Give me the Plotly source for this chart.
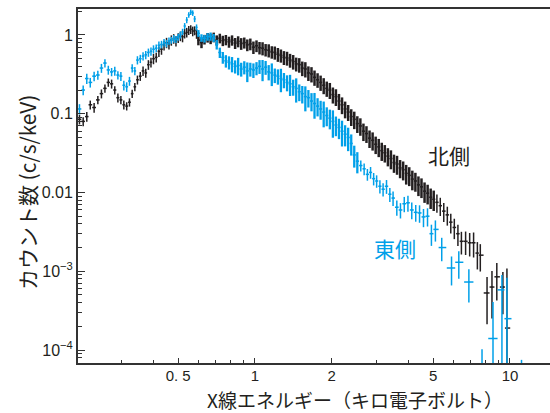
import plotly.graph_objects as go

# ---------------- data ----------------
# 北側 (north side) spectrum
north_energy = [
    0.205, 0.212, 0.219, 0.226, 0.234, 0.242, 0.250, 0.258, 0.266, 0.274,
    0.282, 0.290, 0.298, 0.306, 0.314, 0.322, 0.330, 0.338, 0.346, 0.355,
    0.364, 0.373, 0.382, 0.391, 0.400, 0.410, 0.420, 0.430, 0.440, 0.450,
    0.460, 0.470, 0.480, 0.490, 0.500, 0.510, 0.520, 0.530, 0.540, 0.550,
    0.560, 0.570, 0.580, 0.590,
    0.600, 0.617, 0.634, 0.652, 0.670, 0.689, 0.708, 0.728, 0.748, 0.769,
    0.791, 0.813, 0.836, 0.859, 0.883, 0.908, 0.933, 0.959, 0.986, 1.014,
    1.042, 1.071, 1.101, 1.132, 1.164, 1.196, 1.230, 1.264, 1.299, 1.336,
    1.373, 1.412, 1.451, 1.492, 1.533, 1.576, 1.620, 1.666, 1.712, 1.760,
    1.809, 1.860, 1.912, 1.966, 2.021, 2.077, 2.135, 2.195, 2.257, 2.320,
    2.385, 2.451, 2.520, 2.590, 2.663, 2.737, 2.814, 2.893, 2.974, 3.057,
    3.142, 3.230, 3.321, 3.413, 3.509, 3.607, 3.708, 3.812, 3.918, 4.028,
    4.141, 4.257, 4.376, 4.498, 4.624, 4.754, 4.887, 5.023,
    5.17, 5.33, 5.50, 5.68, 5.86, 6.05, 6.25, 6.45, 6.70, 6.95,
    7.20, 7.45, 7.65, 8.13, 8.50, 8.88, 9.38, 9.73,
]
north_rate = [
    0.085, 0.080, 0.092, 0.13, 0.12, 0.15, 0.18, 0.21, 0.25, 0.24,
    0.20, 0.16, 0.15, 0.13, 0.125, 0.14, 0.18, 0.22, 0.27, 0.30,
    0.35, 0.33, 0.42, 0.45, 0.50, 0.52, 0.62, 0.66, 0.74, 0.80,
    0.76, 0.86, 0.90, 0.84, 0.92, 0.97, 0.95, 1.05, 1.08, 1.15,
    1.18, 1.12, 1.14, 1.04,
    0.86, 0.80, 0.88, 0.93, 0.90, 0.94, 0.86, 0.91, 0.85, 0.87,
    0.82, 0.86, 0.79, 0.83, 0.78, 0.80, 0.75, 0.77, 0.70, 0.73,
    0.69, 0.68, 0.65, 0.64, 0.61, 0.60, 0.57, 0.55, 0.52, 0.51,
    0.48, 0.46, 0.43, 0.42, 0.38, 0.37, 0.33, 0.32, 0.29, 0.27,
    0.25, 0.23, 0.21, 0.20, 0.175, 0.165, 0.145, 0.13, 0.115, 0.105,
    0.092, 0.085, 0.075, 0.070, 0.060, 0.056, 0.049, 0.046, 0.041, 0.038,
    0.034, 0.032, 0.029, 0.027, 0.024, 0.023, 0.0205, 0.0195, 0.0175, 0.0165,
    0.0148, 0.014, 0.0125, 0.0118, 0.0104, 0.0098, 0.0087, 0.0082,
    0.0075, 0.0068, 0.0058, 0.0052, 0.0042, 0.0036, 0.0030, 0.0024, 0.0024, 0.0023,
    0.0023, 0.0017, 0.0016, 5.3e-4, 6.3e-4, 8.5e-4, 6.3e-4, 1.9e-4,
]
north_relerr = [
    0.14, 0.13, 0.14, 0.13, 0.14, 0.12, 0.13, 0.12, 0.12, 0.13,
    0.12, 0.13, 0.12, 0.13, 0.12, 0.12, 0.12, 0.12, 0.13, 0.13,
    0.14, 0.13, 0.14, 0.14, 0.15, 0.14, 0.15, 0.15, 0.14, 0.15,
    0.14, 0.15, 0.14, 0.15, 0.14, 0.14, 0.15, 0.14, 0.14, 0.13,
    0.13, 0.14, 0.13, 0.14,
    0.14, 0.15, 0.14, 0.14, 0.15, 0.14, 0.15, 0.14, 0.15, 0.15,
    0.16, 0.15, 0.16, 0.16, 0.17, 0.16, 0.17, 0.17, 0.18, 0.17,
    0.18, 0.19, 0.18, 0.19, 0.18, 0.19, 0.20, 0.19, 0.20, 0.20,
    0.20, 0.21, 0.20, 0.21, 0.21, 0.22, 0.21, 0.22, 0.22, 0.21,
    0.22, 0.23, 0.22, 0.23, 0.23, 0.24, 0.23, 0.24, 0.24, 0.23,
    0.24, 0.25, 0.24, 0.25, 0.25, 0.24, 0.25, 0.26, 0.25, 0.26,
    0.26, 0.25, 0.26, 0.27, 0.26, 0.27, 0.26, 0.27, 0.28, 0.27,
    0.28, 0.27, 0.28, 0.28, 0.29, 0.28, 0.29, 0.29,
    0.26, 0.26, 0.27, 0.27, 0.28, 0.29, 0.30, 0.32, 0.33, 0.33,
    0.35, 0.38, 0.38, 0.60, 0.60, 0.50, 0.55, 4.7,
]
north_floor = [9.73]   # bins whose lower error bar reaches the bottom of the plot

# 東側 (east side) spectrum
east_energy = [
    0.205, 0.212, 0.219, 0.226, 0.234, 0.242, 0.250, 0.258, 0.266, 0.274,
    0.282, 0.290, 0.298, 0.306, 0.314, 0.322, 0.330, 0.338, 0.346, 0.355,
    0.364, 0.373, 0.382, 0.391, 0.400, 0.410, 0.420, 0.430, 0.440, 0.450,
    0.460, 0.470, 0.480, 0.490, 0.500, 0.510, 0.520, 0.530, 0.540, 0.550,
    0.560, 0.570, 0.580, 0.590,
    0.600, 0.617, 0.634, 0.652, 0.670, 0.689, 0.708, 0.728, 0.748, 0.769,
    0.791, 0.813, 0.836, 0.859, 0.883, 0.908, 0.933, 0.959, 0.986, 1.014,
    1.042, 1.071, 1.101, 1.132, 1.164, 1.196, 1.230, 1.264, 1.299, 1.336,
    1.373, 1.412, 1.451, 1.492, 1.533, 1.576, 1.620, 1.666, 1.712, 1.760,
    1.809, 1.860, 1.912, 1.966, 2.021, 2.077, 2.135, 2.195, 2.257, 2.320,
    2.385, 2.451, 2.520,
    2.60, 2.68, 2.76, 2.84, 2.92, 3.00, 3.09, 3.18, 3.28, 3.38,
    3.48, 3.60, 3.72, 3.85, 3.98, 4.12, 4.27, 4.42, 4.58, 4.75,
    4.92, 5.10, 5.40, 5.90, 6.30, 6.90,
    7.77, 8.58, 9.30, 9.73, 11.1,
]
east_rate = [
    0.115, 0.20, 0.28, 0.25, 0.30, 0.31, 0.38, 0.44, 0.36, 0.34,
    0.35, 0.31, 0.30, 0.23, 0.22, 0.26, 0.38, 0.35, 0.48, 0.50,
    0.54, 0.56, 0.60, 0.62, 0.66, 0.68, 0.74, 0.76, 0.80, 0.78,
    0.84, 0.86, 0.90, 0.88, 0.94, 1.00, 1.10, 1.30, 1.55, 1.80,
    1.95, 1.90, 1.60, 1.25,
    1.05, 0.92, 0.90, 0.95, 0.96, 0.92, 0.76, 0.60, 0.52, 0.47,
    0.45, 0.43, 0.40, 0.41, 0.37, 0.39, 0.35, 0.37, 0.36, 0.38,
    0.40, 0.37, 0.39, 0.34, 0.33, 0.31, 0.30, 0.28, 0.27, 0.25,
    0.24, 0.22, 0.21, 0.19, 0.18, 0.165, 0.16, 0.145, 0.135, 0.125,
    0.115, 0.105, 0.095, 0.088, 0.080, 0.072, 0.067, 0.060, 0.055, 0.050,
    0.042, 0.030, 0.025,
    0.022, 0.020, 0.017, 0.018, 0.015, 0.014, 0.012, 0.011, 0.012, 0.0095,
    0.0085, 0.0065, 0.0060, 0.0072, 0.0074, 0.0060, 0.0056, 0.0055, 0.0049, 0.0050,
    0.0030, 0.0034, 0.0020, 0.0011, 0.0013, 7.3e-4,
    6e-5, 1.4e-4, 5.8e-4, 2.5e-4, 6e-5,
]
east_relerr = [
    0.15, 0.14, 0.15, 0.14, 0.14, 0.13, 0.13, 0.12, 0.13, 0.12,
    0.13, 0.12, 0.13, 0.14, 0.14, 0.13, 0.12, 0.12, 0.12, 0.12,
    0.12, 0.12, 0.12, 0.12, 0.12, 0.11, 0.12, 0.11, 0.11, 0.11,
    0.11, 0.10, 0.11, 0.10, 0.10, 0.10, 0.09, 0.09, 0.09, 0.08,
    0.08, 0.08, 0.09, 0.09,
    0.10, 0.11, 0.11, 0.11, 0.12, 0.12, 0.14, 0.15, 0.17, 0.18,
    0.19, 0.22, 0.19, 0.25, 0.20, 0.19, 0.28, 0.20, 0.21, 0.19,
    0.20, 0.30, 0.20, 0.22, 0.32, 0.21, 0.22, 0.33, 0.22, 0.23,
    0.30, 0.23, 0.34, 0.24, 0.25, 0.35, 0.25, 0.26, 0.36, 0.26,
    0.27, 0.36, 0.27, 0.28, 0.38, 0.28, 0.29, 0.36, 0.30, 0.33,
    0.30, 0.31, 0.30,
    0.16, 0.17, 0.17, 0.17, 0.18, 0.18, 0.19, 0.19, 0.20, 0.20,
    0.21, 0.22, 0.22, 0.22, 0.23, 0.24, 0.24, 0.25, 0.26, 0.26,
    0.30, 0.30, 0.33, 0.40, 0.38, 0.45,
    0.7, 1.9, 0.55, 2.3, 0.25,
]
east_floor = [7.77, 8.58, 9.30, 9.73]

x_tickvals = [0.5, 1, 2, 5, 10]
x_ticktext = ["0. 5", "1", "2", "5", "10"]
x_minor = [0.3, 0.4, 0.6, 0.7, 0.8, 0.9, 3, 4, 6, 7, 8, 9]
y_tickvals = [1, 0.1, 0.01, 0.001, 0.0001]
y_ticktext = ["1", "0.1", "0.01", "10<sup>−3</sup>", "10<sup>−4</sup>"]
y_minor = [m * d for d in (1e-5, 1e-4, 1e-3, 1e-2, 1e-1, 1) for m in range(2, 10)]

BLACK = "#231F20"
CYAN = "#00A0E9"


def bars(E, R, REL, floor, cap):
    up, dn, xl, xr = [], [], [], []
    n = len(E)
    for i in range(n):
        e, r, s = E[i], R[i], REL[i]
        up.append(r * s)
        dn.append(0.999 * r if (e in floor or s >= 1) else r * s)
        left = (e - E[i - 1]) / 2 if i > 0 else cap * e
        right = (E[i + 1] - e) / 2 if i < n - 1 else cap * e
        xl.append(min(left, cap * e))
        xr.append(min(right, cap * e))
    return up, dn, xl, xr


fig = go.Figure()
# (series, colour, horizontal cap, dense-band energy window, dense bar thickness)
series = (
    (north_energy, north_rate, north_relerr, north_floor, BLACK, 0.03, (0.595, 5.1), 2.5),
    (east_energy, east_rate, east_relerr, east_floor, CYAN, 0.042, (0.595, 2.55), 2.3),
)
for E, R, REL, FL, col, cap, (lo, hi), thick in series:
    up, dn, xl, xr = bars(E, R, REL, FL, cap)
    groups = {
        "dense": [i for i, e in enumerate(E) if lo <= e <= hi],
        "sparse": [i for i, e in enumerate(E) if not (lo <= e <= hi)],
    }
    for name, idx in groups.items():
        t = thick if name == "dense" else 1.5
        pick = lambda a: [a[i] for i in idx]
        fig.add_trace(go.Scatter(
            x=pick(E), y=pick(R), mode="markers",
            marker=dict(size=1.5, color=col),
            error_y=dict(type="data", symmetric=False, array=pick(up), arrayminus=pick(dn),
                         width=0, thickness=t, color=col),
            error_x=dict(type="data", symmetric=False, array=pick(xr), arrayminus=pick(xl),
                         width=0, thickness=1.5, color=col),
            showlegend=False, hoverinfo="skip",
        ))

tickfont = dict(family="Liberation Sans, Arial, sans-serif", size=15, color=BLACK)
jp = "Noto Sans CJK JP, sans-serif"

fig.update_layout(
    width=550, height=413,
    margin=dict(l=78, r=0, t=9, b=50),
    paper_bgcolor="white", plot_bgcolor="white",
    xaxis=dict(
        type="log", range=[-0.694, 1.157],
        tickvals=x_tickvals, ticktext=x_ticktext,
        ticks="inside", ticklen=5, tickwidth=1.2, tickcolor="#333",
        minor=dict(tickvals=x_minor, ticks="inside", ticklen=3, tickwidth=1.2, tickcolor="#333"),
        showline=True, linewidth=2, linecolor="#333", mirror=True,
        showgrid=False, zeroline=False, tickfont=tickfont, ticklabelstandoff=-2,
    ),
    yaxis=dict(
        type="log", range=[-4.165, 0.33],
        tickvals=y_tickvals, ticktext=y_ticktext,
        ticks="inside", ticklen=7, tickwidth=1.2, tickcolor="#333",
        minor=dict(tickvals=y_minor, ticks="inside", ticklen=4, tickwidth=1, tickcolor="#333"),
        showline=True, linewidth=2, linecolor="#333", mirror=False,
        showgrid=False, zeroline=False, tickfont=dict(tickfont, size=16),
    ),
    yaxis2=dict(
        type="log", range=[-4.165, 0.33], overlaying="y", side="right", anchor="x",
        tickvals=y_tickvals, ticks="inside", ticklen=4, tickwidth=1.2, tickcolor="#333",
        showticklabels=False, showline=False, showgrid=False, zeroline=False,
    ),
    annotations=[
        dict(text="X線エネルギー（キロ電子ボルト）", xref="paper", yref="paper",
             x=0.587, y=-0.103, xanchor="center", yanchor="middle", showarrow=False,
             font=dict(family=jp, size=19, color=BLACK)),
        dict(text="カウント数 (c/s/keV)", xref="paper", yref="paper",
             x=-0.108, y=0.48, xanchor="center", yanchor="middle", showarrow=False,
             textangle=-90, font=dict(family=jp, size=21, color=BLACK)),
        dict(text="北側", xref="paper", yref="paper", x=0.786, y=0.588,
             xanchor="center", yanchor="middle", showarrow=False,
             font=dict(family=jp, size=21, color=BLACK)),
        dict(text="東側", xref="paper", yref="paper", x=0.672, y=0.325,
             xanchor="center", yanchor="middle", showarrow=False,
             font=dict(family=jp, size=21, color=CYAN)),
    ],
)

fig.write_html("out.html", config={"displayModeBar": False},
               post_script="document.body.style.margin='0';")
